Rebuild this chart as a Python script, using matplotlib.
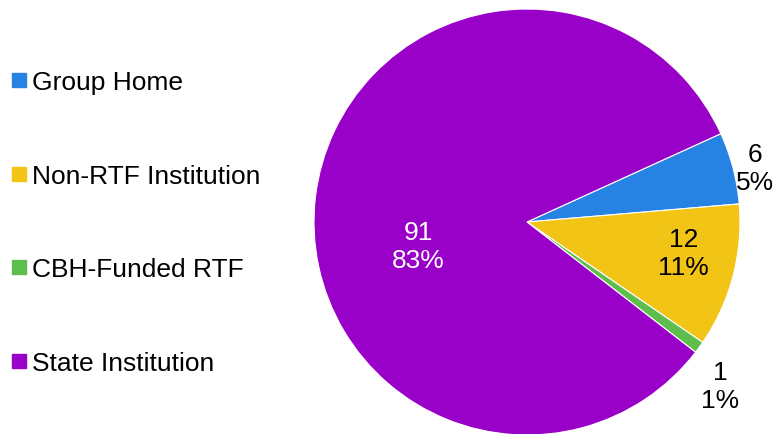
import matplotlib.pyplot as plt
from matplotlib.lines import Line2D

plt.rcParams['font.family'] = ['Liberation Sans', 'DejaVu Sans']

categories = ["Group Home", "Non-RTF Institution", "CBH-Funded RTF", "State Institution"]
counts = [6, 12, 1, 91]
colors = ["#2683E3", "#F2C416", "#5DBE4E", "#9900C8"]
# label positions (data units, radius 1) and colours
label_pos = [(1.07, 0.254), (0.735, -0.146), (0.908, -0.77), (-0.51, -0.112)]
label_col = ["black", "black", "black", "white"]

fig = plt.figure(figsize=(7.77, 4.35), dpi=100)
ax = fig.add_axes([0.4041, -0.0023, 0.5483, 0.9793])

wedges, _ = ax.pie(counts, colors=colors, startangle=24.5, counterclock=False,
                   radius=1, wedgeprops=dict(edgecolor="white", linewidth=0.8))
ax.set_xlim(-1, 1)
ax.set_ylim(-1, 1)
ax.set_aspect("equal")

total = sum(counts)
for c, (x, y), col in zip(counts, label_pos, label_col):
    pct = round(100 * c / total)
    ax.text(x, y, f"{c}\n{pct}%", ha="center", va="center", fontsize=19,
            color=col, linespacing=1.22)

handles = [Line2D([], [], marker="s", linestyle="", markersize=9.5,
                  markerfacecolor=c, markeredgecolor=c) for c in colors]
fig.legend(handles, categories, loc="center left", bbox_to_anchor=(0.012, 0.486),
           frameon=False, fontsize=19, labelspacing=2.64, handlelength=0.7,
           handletextpad=0.15, borderaxespad=0.0, borderpad=0.0)

fig.savefig("out.png", dpi=100)
